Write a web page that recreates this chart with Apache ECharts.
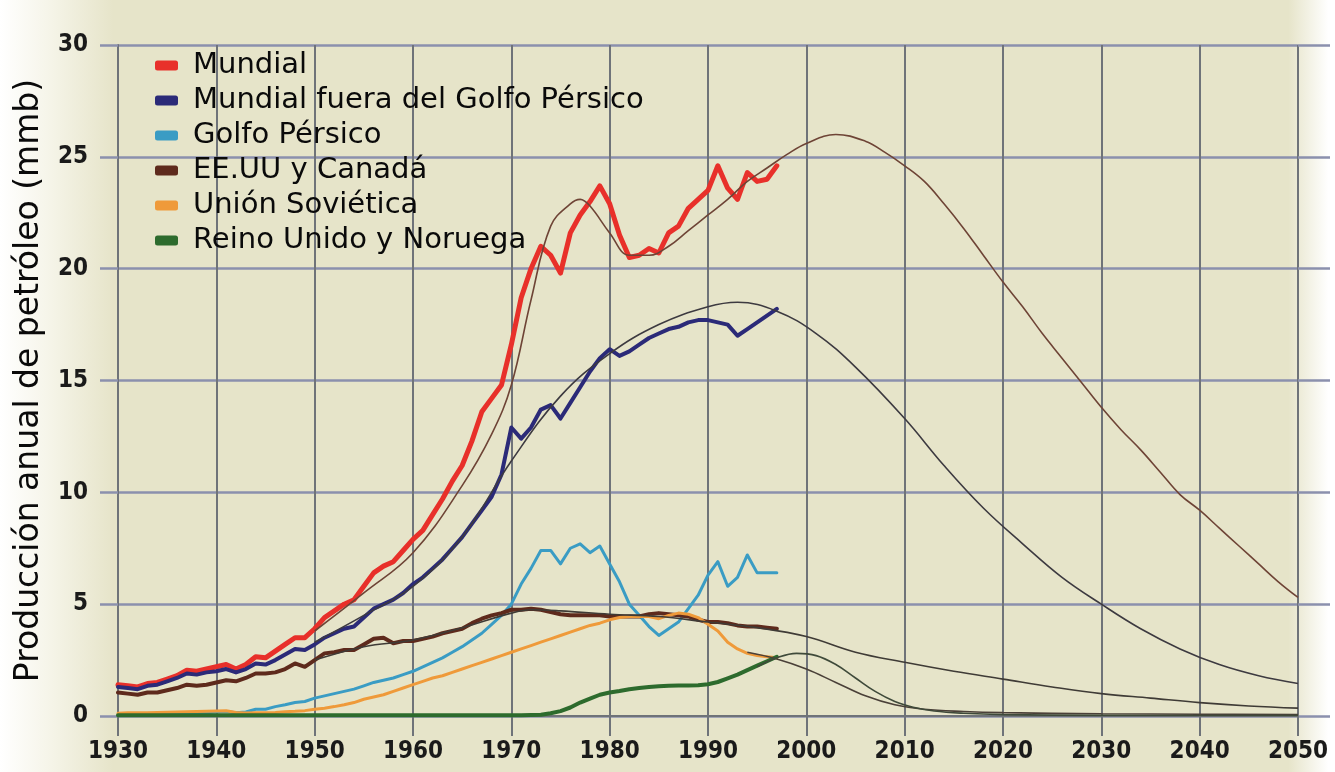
<!DOCTYPE html>
<html>
<head>
<meta charset="utf-8">
<script src="https://cdn.jsdelivr.net/npm/echarts@6/dist/echarts.min.js"></script>
<style>
html,body{margin:0;padding:0;background:#fff;}
#c{width:1335px;height:772px;}
</style>
</head>
<body>
<div id="c"></div>
<script>
// ---- DATA ----
const years = [1930,1931,1932,1933,1934,1935,1936,1937,1938,1939,
1940,1941,1942,1943,1944,1945,1946,1947,1948,1949,
1950,1951,1952,1953,1954,1955,1956,1957,1958,1959,
1960,1961,1962,1963,1964,1965,1966,1967,1968,1969,
1970,1971,1972,1973,1974,1975,1976,1977,1978,1979,
1980,1981,1982,1983,1984,1985,1986,1987,1988,1989,
1990,1991,1992,1993,1994,1995,1996,1997];

const mundial = [1.4,1.35,1.3,1.45,1.5,1.65,1.8,2.05,2.0,2.1,
2.2,2.3,2.1,2.3,2.65,2.6,2.9,3.2,3.5,3.5,
3.9,4.4,4.7,5.0,5.2,5.8,6.4,6.7,6.9,7.4,
7.9,8.3,9.0,9.7,10.5,11.2,12.3,13.6,14.2,14.8,
16.6,18.7,20.0,21.0,20.6,19.8,21.6,22.4,23.0,23.7,
22.9,21.5,20.5,20.6,20.9,20.7,21.6,21.9,22.7,23.1,
23.5,24.6,23.6,23.1,24.3,23.9,24.0,24.6];

const fueraGolfo = [1.3,1.25,1.2,1.35,1.4,1.55,1.7,1.9,1.85,1.95,
2.0,2.1,1.95,2.1,2.35,2.3,2.5,2.75,3.0,2.95,
3.2,3.5,3.7,3.9,4.0,4.4,4.8,5.0,5.2,5.5,
5.9,6.2,6.6,7.0,7.5,8.0,8.6,9.2,9.8,10.8,
12.9,12.4,12.9,13.7,13.9,13.3,14.0,14.7,15.4,16.0,
16.4,16.1,16.3,16.6,16.9,17.1,17.3,17.4,17.6,17.7,
17.7,17.6,17.5,17.0,17.3,17.6,17.9,18.2];

const golfo = [0.04,0.04,0.05,0.06,0.07,0.08,0.1,0.12,0.13,0.14,
0.18,0.2,0.15,0.18,0.3,0.3,0.42,0.5,0.6,0.65,
0.8,0.9,1.0,1.1,1.2,1.35,1.5,1.6,1.7,1.85,
2.0,2.2,2.4,2.6,2.85,3.1,3.4,3.7,4.1,4.5,
5.0,5.9,6.6,7.4,7.4,6.8,7.5,7.7,7.3,7.6,
6.8,6.0,5.0,4.5,4.0,3.6,3.9,4.2,4.8,5.4,
6.3,6.9,5.8,6.2,7.2,6.4,6.4,6.4];

const eeuuCanada = [1.05,1.0,0.95,1.05,1.05,1.15,1.25,1.4,1.35,1.4,
1.5,1.6,1.55,1.7,1.9,1.9,1.95,2.1,2.35,2.2,
2.5,2.8,2.85,2.95,2.95,3.2,3.45,3.5,3.25,3.35,
3.35,3.45,3.55,3.7,3.8,3.9,4.15,4.35,4.5,4.6,
4.75,4.75,4.8,4.75,4.65,4.55,4.5,4.5,4.5,4.5,
4.45,4.45,4.45,4.45,4.55,4.6,4.55,4.5,4.45,4.3,
4.2,4.2,4.15,4.05,4.0,4.0,3.95,3.9];

const sovietica = [0.12,0.14,0.14,0.14,0.16,0.17,0.18,0.19,0.2,0.21,
0.22,0.23,0.16,0.13,0.14,0.15,0.16,0.19,0.21,0.24,
0.3,0.35,0.42,0.5,0.6,0.75,0.85,0.95,1.1,1.25,
1.4,1.55,1.7,1.8,1.95,2.1,2.25,2.4,2.55,2.7,
2.85,3.0,3.15,3.3,3.45,3.6,3.75,3.9,4.05,4.15,
4.3,4.4,4.45,4.45,4.45,4.35,4.5,4.6,4.55,4.4,
4.1,3.8,3.3,3.0,2.8,2.7,2.65,2.6];

const reinoNoruega = [0.03,0.03,0.03,0.03,0.03,0.03,0.03,0.03,0.03,0.03,
0.03,0.03,0.03,0.03,0.03,0.03,0.03,0.03,0.03,0.03,
0.03,0.03,0.03,0.03,0.03,0.03,0.03,0.03,0.03,0.03,
0.03,0.03,0.03,0.03,0.03,0.03,0.03,0.03,0.03,0.03,
0.03,0.03,0.05,0.06,0.12,0.22,0.38,0.6,0.78,0.95,
1.05,1.12,1.2,1.25,1.3,1.33,1.35,1.36,1.36,1.37,
1.42,1.52,1.68,1.85,2.05,2.25,2.45,2.65];

// fitted / forecast curves (thin lines)
const mundialModelYears = [1950,1955,1960,1965,1968,1970,1972,1974,1976,1977,1978,1980,1982,1984,1986,1988,1990,1992,1994,1996,1998,2000,2003,2006,2008,2010,2012,2014,2016,2018,2020,2022,2024,2026,2028,2030,2032,2034,2036,2038,2040,2042,2044,2046,2048,2050];
const mundialModel = [3.8,5.5,7.3,10.3,12.6,14.8,18.6,21.9,22.9,23.1,22.8,21.6,20.6,20.6,21.0,21.7,22.4,23.1,23.9,24.5,25.1,25.6,26.0,25.7,25.2,24.6,23.9,22.9,21.8,20.6,19.4,18.3,17.1,16.0,14.9,13.8,12.8,11.9,10.9,9.9,9.2,8.4,7.6,6.8,6.0,5.3];

const fueraModelYears = [1950,1955,1960,1965,1970,1975,1980,1985,1990,1993,1997,2001,2005,2010,2014,2018,2022,2026,2030,2034,2038,2042,2046,2050];
const fueraModel = [3.3,4.5,5.8,8.0,11.4,14.3,16.2,17.5,18.3,18.5,18.1,17.1,15.6,13.3,11.2,9.3,7.7,6.2,5.0,3.9,3.0,2.3,1.8,1.45];

const eeuuModelYears = [1950,1955,1960,1965,1970,1972,1975,1980,1985,1990,1995,2000,2005,2010,2015,2020,2025,2030,2035,2040,2045,2050];
const eeuuModel = [2.5,3.1,3.4,3.95,4.6,4.75,4.7,4.55,4.45,4.2,3.95,3.55,2.85,2.4,2.0,1.65,1.3,1.0,0.8,0.6,0.45,0.35];

const sovModelYears = [1994,1997,2000,2003,2006,2009,2012,2016,2020,2030,2040,2050];
const sovModel = [2.85,2.55,2.1,1.5,0.9,0.5,0.3,0.2,0.15,0.1,0.08,0.06];

const reinoModelYears = [1995,1997,1999,2001,2003,2005,2007,2009,2011,2013,2016,2020,2030,2040,2050];
const reinoModel = [2.2,2.6,2.8,2.7,2.3,1.7,1.1,0.65,0.38,0.22,0.12,0.06,0.03,0.02,0.02];

const xTicks = {min:1930, max:2050, interval:10};
const yTicks = {min:0, max:30, interval:5};

const names = ['Mundial','Mundial fuera del Golfo Pérsico','Golfo Pérsico','EE.UU y Canadá','Unión Soviética','Reino Unido y Noruega'];
const colors = ['#e8302a','#2b2a78','#3a9cc4','#5e2a1c','#ef9a3a','#2d6b2d'];
const widths = [5,4,3,4,3,4];
const actual = [mundial, fueraGolfo, golfo, eeuuCanada, sovietica, reinoNoruega];

const zip = (xs, ys) => xs.map((x,i)=>[x, ys[i]]);

const series = [];
actual.forEach((vals,i)=>{
  series.push({
    name: names[i], type:'line', data: zip(years, vals), showSymbol:false, symbol:'none',
    lineStyle:{color:colors[i], width:widths[i], join:'round', cap:'round'},
    itemStyle:{color:colors[i]}, z: 3
  });
});
const models = [
  [mundialModelYears, mundialModel, '#6e4436'],
  [fueraModelYears, fueraModel, '#3d3a40'],
  [eeuuModelYears, eeuuModel, '#3f3b36'],
  [sovModelYears, sovModel, '#4a4038'],
  [reinoModelYears, reinoModel, '#3f4a3a']
];
models.forEach(m=>{
  series.push({
    type:'line', data: zip(m[0], m[1]), smooth:0.4, showSymbol:false, symbol:'none',
    lineStyle:{color:m[2], width:1.6}, z:4, silent:true
  });
});

const gridH = '#8b90ad', gridV = '#6f7379';
const chart = echarts.init(document.getElementById('c'), null, {renderer:'canvas'});
chart.setOption({
  animation:false,
  backgroundColor:{type:'linear', x:0, y:0, x2:1, y2:0, colorStops:[
    {offset:0, color:'#ffffff'},{offset:0.035, color:'#f6f5ea'},{offset:0.085, color:'#e6e4c9'},
    {offset:0.965, color:'#e6e4c9'},{offset:0.995, color:'#ffffff'},{offset:1, color:'#ffffff'}]},
  grid:{left:118, right:37, top:45, bottom:56},
  legend:{
    data: names, orient:'vertical', left:155, top:51, itemWidth:23, itemHeight:10, itemGap:6,
    icon:'roundRect', selectedMode:false, padding:0,
    textStyle:{fontFamily:'DejaVu Sans', fontSize:29, lineHeight:29, color:'#0a0a0a', padding:[0,0,0,10]}
  },
  xAxis:[{
    type:'value', min:xTicks.min, max:xTicks.max, interval:xTicks.interval,
    axisLine:{show:true, lineStyle:{color:gridV, width:2}},
    axisTick:{show:true, length:20, lineStyle:{color:gridV, width:2}},
    splitLine:{show:true, lineStyle:{color:gridV, width:2}},
    axisLabel:{fontFamily:'DejaVu Sans Condensed', fontWeight:'bold', fontSize:24, color:'#1a1a1a', margin:24,
      formatter: v => String(v)}
  },{
    type:'value', position:'top', min:xTicks.min, max:xTicks.max, interval:xTicks.interval,
    axisLine:{show:false}, axisLabel:{show:false}, splitLine:{show:false},
    axisTick:{show:true, length:10, lineStyle:{color:gridV, width:2}}
  }],
  yAxis:[{
    type:'value', min:yTicks.min, max:yTicks.max, interval:yTicks.interval,
    name:'Producción anual de petróleo (mmb)', nameLocation:'middle', nameRotate:90, nameGap:72,
    nameTextStyle:{fontFamily:'DejaVu Sans', fontSize:33, color:'#0a0a0a'},
    axisLine:{show:true, lineStyle:{color:gridV, width:2}},
    axisTick:{show:true, length:18, lineStyle:{color:gridH, width:2.5}},
    splitLine:{show:true, lineStyle:{color:gridH, width:2.5}},
    axisLabel:{fontFamily:'DejaVu Sans Condensed', fontWeight:'bold', fontSize:24, color:'#1a1a1a', margin:30}
  },{
    type:'value', position:'right', min:yTicks.min, max:yTicks.max, interval:yTicks.interval,
    axisLine:{show:false}, axisLabel:{show:false}, splitLine:{show:false},
    axisTick:{show:true, length:32, lineStyle:{color:gridH, width:2.5}}
  }],
  series: series
});
</script>
</body>
</html>
